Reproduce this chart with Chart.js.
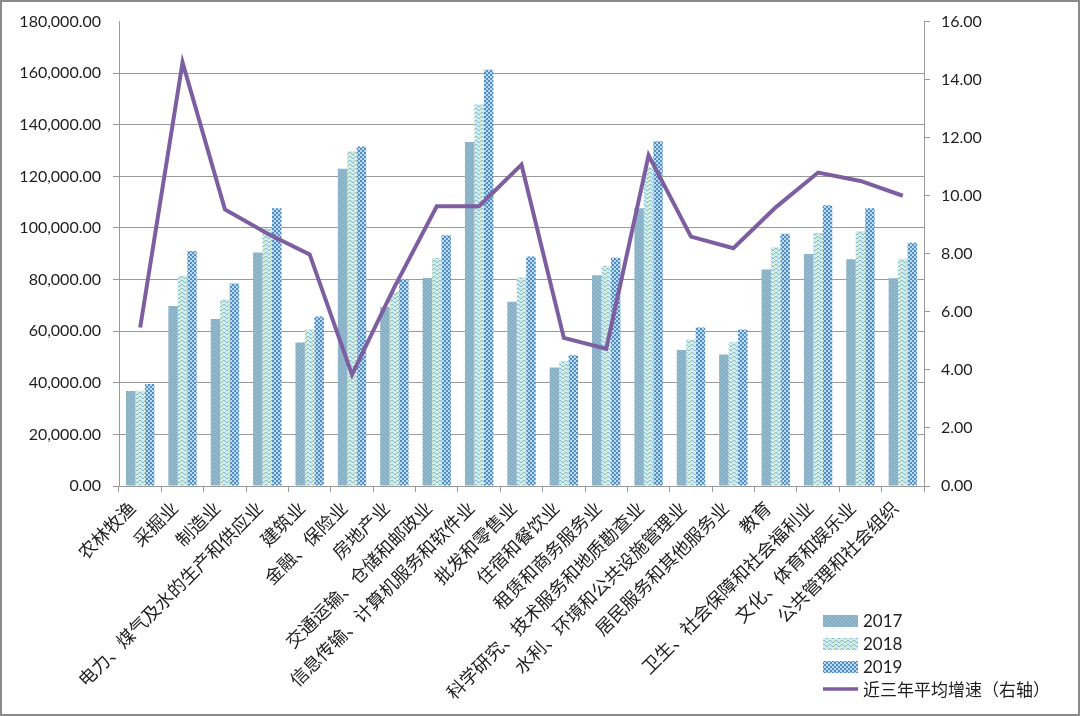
<!DOCTYPE html>
<html>
<head>
<meta charset="utf-8">
<script src="https://cdn.jsdelivr.net/npm/chart.js@4.4.1/dist/chart.umd.min.js"></script>
<style>
  html, body { margin: 0; padding: 0; background: #fff; }
  #wrap { width: 1080px; height: 716px; }
</style>
</head>
<body>
<div id="wrap"><canvas id="industryChart" width="1080" height="716"></canvas></div>
<script>
// Chart data
const categories = [
    "农林牧渔", "采掘业", "制造业", "电力、煤气及水的生产和供应业", "建筑业",
    "金融、保险业", "房地产业", "交通运输、仓储和邮政业", "信息传输、计算机服务和软件业",
    "批发和零售业", "住宿和餐饮业", "租赁和商务服务业", "科学研究、技术服务和地质勘查业",
    "水利、环境和公共设施管理业", "居民服务和其他服务业", "教育",
    "卫生、社会保障和社会福利业", "文化、体育和娱乐业", "公共管理和社会组织"
];
const wage2017 = [36800, 69800, 64700, 90500, 55600, 123000, 69400, 80600, 133300, 71400, 45900, 81700, 107700, 52700, 51000, 83900, 89900, 87900, 80500];
const wage2018 = [36900, 81400, 72300, 99800, 60700, 129700, 75200, 88400, 147900, 80800, 48400, 85300, 123600, 56800, 55700, 92600, 98100, 98800, 88100];
const wage2019 = [39500, 91100, 78500, 107700, 65700, 131600, 80100, 97200, 161300, 89000, 50700, 88500, 133600, 61400, 60700, 97800, 108800, 107700, 94300];
const avgGrowth = [5.46, 14.59, 9.53, 8.7, 7.98, 3.84, 6.85, 9.64, 9.64, 11.07, 5.10, 4.73, 11.39, 8.59, 8.19, 9.6, 10.80, 10.51, 10.00];
const seriesNames = ["2017", "2018", "2019", "近三年平均增速（右轴）"];

// small fill patterns, like the excel ones
function makePattern(w, h, bg, fg, pixels) {
    const c = document.createElement("canvas");
    c.width = w;
    c.height = h;
    const g = c.getContext("2d");
    g.fillStyle = bg;
    g.fillRect(0, 0, w, h);
    g.fillStyle = fg;
    pixels.forEach(p => g.fillRect(p[0], p[1], 1, 1));
    return g.createPattern(c, "repeat");
}

const fill2017 = makePattern(4, 4, "#93b9cc", "#7aa5bd", [[0, 0], [2, 1], [1, 2], [3, 3]]);
const fill2018 = makePattern(6, 4, "#d4eedb", "#86b8dc", [[0, 1], [1, 0], [2, 0], [3, 1], [4, 2], [5, 2]]);
const fill2019 = makePattern(4, 4, "#bcdaec", "#4f8fc6", [[0, 0], [1, 0], [0, 1], [1, 1], [2, 2], [3, 2], [2, 3], [3, 3]]);
const lineColor = "#7d5ea1";
const gridColor = "#9a9a9a";
const textColor = "#1e1e1e";

// white background + outer frame
const framePlugin = {
    id: "frame",
    beforeDraw(chart) {
        const ctx = chart.ctx;
        ctx.save();
        ctx.fillStyle = "#fff";
        ctx.fillRect(0, 0, chart.width, chart.height);
        ctx.restore();
    },
    afterDraw(chart) {
        const ctx = chart.ctx;
        ctx.save();
        ctx.strokeStyle = "#8a8a8a";
        ctx.lineWidth = 2;
        ctx.strokeRect(1, 1, chart.width - 2, chart.height - 2);
        ctx.restore();
    }
};

// legend stacked in the bottom right corner
const cornerLegend = {
    id: "cornerLegend",
    afterDraw(chart) {
        const ctx = chart.ctx;
        const x = 823, rowY = [621, 644, 667, 689];
        ctx.save();
        chart.data.datasets.forEach((ds, i) => {
            const y = rowY[i];
            if (ds.type === "line") {
                ctx.strokeStyle = ds.borderColor;
                ctx.lineWidth = 3.5;
                ctx.beginPath();
                ctx.moveTo(x, y);
                ctx.lineTo(x + 35, y);
                ctx.stroke();
                ctx.font = "17px 'Noto Sans CJK SC'";
            } else {
                ctx.fillStyle = ds.backgroundColor;
                ctx.fillRect(x, y - 6, 35, 12);
                ctx.font = "17px Lato";
            }
            ctx.fillStyle = textColor;
            ctx.textBaseline = "middle";
            ctx.fillText(ds.label, x + 40, y + 1);
        });
        ctx.restore();
    }
};

const ctx = document.getElementById("industryChart").getContext("2d");
const industryChart = new Chart(ctx, {
    type: "bar",
    data: {
        labels: categories,
        datasets: [
            { label: seriesNames[0], data: wage2017, backgroundColor: fill2017, yAxisID: "y", order: 2 },
            { label: seriesNames[1], data: wage2018, backgroundColor: fill2018, yAxisID: "y", order: 2 },
            { label: seriesNames[2], data: wage2019, backgroundColor: fill2019, yAxisID: "y", order: 2 },
            {
                type: "line",
                label: seriesNames[3],
                data: avgGrowth,
                borderColor: lineColor,
                borderWidth: 4,
                pointRadius: 0,
                tension: 0,
                yAxisID: "y1",
                order: 1
            }
        ]
    },
    options: {
        responsive: false,
        animation: false,
        devicePixelRatio: 1,
        layout: { padding: { top: 21, left: 0, right: 0, bottom: 0 } },
        datasets: {
            bar: { categoryPercentage: 0.67, barPercentage: 1.0 }
        },
        plugins: {
            legend: { display: false },
            tooltip: { enabled: false }
        },
        scales: {
            x: {
                grid: { drawOnChartArea: false, drawTicks: true, tickLength: 6, color: gridColor },
                border: { color: gridColor },
                ticks: {
                    autoSkip: false,
                    minRotation: 45,
                    maxRotation: 45,
                    padding: 5,
                    labelOffset: -8,
                    color: textColor,
                    font: { family: "'Noto Sans CJK SC'", size: 18 }
                },
                afterFit(scale) { scale.height = 230; }
            },
            y: {
                position: "left",
                min: 0,
                max: 180000,
                grid: {
                    color: c => (c.tick && c.tick.value === 180000 ? "rgba(0,0,0,0)" : gridColor),
                    tickLength: 6
                },
                border: { color: gridColor },
                ticks: {
                    stepSize: 20000,
                    padding: 12,
                    color: textColor,
                    font: { family: "Lato", size: 16 },
                    callback: v => v.toLocaleString("en-US", { minimumFractionDigits: 2, maximumFractionDigits: 2 })
                },
                afterFit(scale) { scale.width = 119; }
            },
            y1: {
                position: "right",
                min: 0,
                max: 16,
                grid: { drawOnChartArea: false, tickLength: 6, color: gridColor },
                border: { color: gridColor },
                ticks: {
                    stepSize: 2,
                    padding: 11,
                    color: textColor,
                    font: { family: "Lato", size: 16 },
                    callback: v => v.toFixed(2)
                },
                afterFit(scale) { scale.width = 1080 - 924; }
            }
        }
    },
    plugins: [framePlugin, cornerLegend]
});
</script>
</body>
</html>
